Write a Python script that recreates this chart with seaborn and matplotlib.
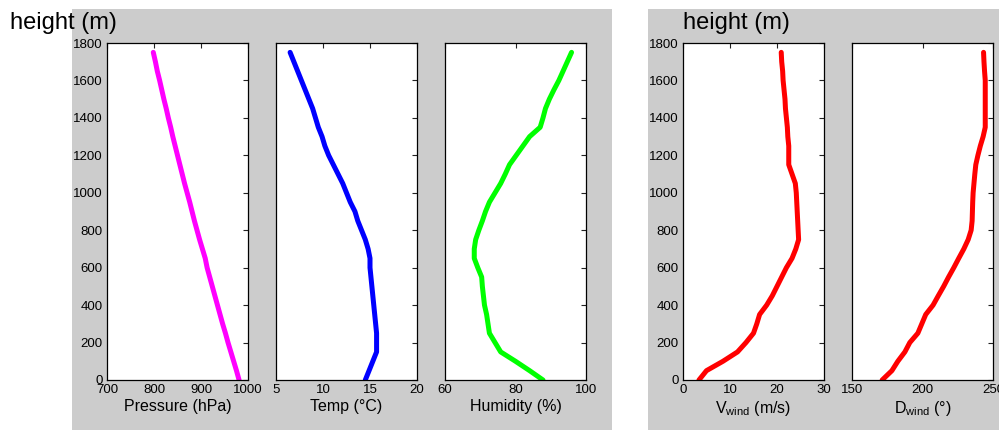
import numpy as np
import pandas as pd
import matplotlib
matplotlib.use("Agg")
import matplotlib.pyplot as plt
from matplotlib.patches import Rectangle
import seaborn as sns

# Profile data (height grid every 50 m)
height = [0, 50, 100, 150, 200, 250, 300, 350, 400, 450, 500, 550, 600, 650, 700, 750, 800, 850,
          900, 950, 1000, 1050, 1100, 1150, 1200, 1250, 1300, 1350, 1400, 1450, 1500, 1550, 1600,
          1650, 1700, 1750]
pressure = [981, 975.5, 969.5, 963.5, 957.5, 952, 946, 940.5, 935, 929.5, 924, 918.5, 913, 909,
            903, 897, 891.5, 886, 881, 876, 870.5, 865, 860, 855, 850, 845, 840, 835.5, 830.5,
            826, 821, 816.5, 812, 807, 803, 798.5]
temp = [14.5, 14.9, 15.3, 15.7, 15.7, 15.7, 15.6, 15.5, 15.4, 15.3, 15.2, 15.1, 15.0, 15.0, 14.8,
        14.5, 14.1, 13.7, 13.4, 12.9, 12.5, 12.1, 11.6, 11.1, 10.6, 10.2, 9.9, 9.5, 9.2, 8.9, 8.5,
        8.1, 7.7, 7.3, 6.9, 6.5]
humidity = [87.8, 84.0, 80.0, 75.8, 74.2, 72.6, 72.2, 71.8, 71.2, 70.9, 70.6, 70.4, 69.3, 68.3,
            68.3, 68.7, 69.6, 70.6, 71.5, 72.6, 74.2, 75.8, 77.1, 78.3, 80.2, 82.1, 84.0, 87.0,
            87.8, 88.5, 89.6, 90.9, 92.3, 93.5, 94.7, 95.9]
v_wind = [3.4, 5.0, 8.5, 11.6, 13.4, 15.0, 15.7, 16.3, 17.8, 19.0, 20.0, 21.0, 22.0, 23.2, 24.0,
          24.6, 24.5, 24.4, 24.3, 24.2, 24.1, 23.9, 23.2, 22.5, 22.5, 22.5, 22.3, 22.2, 22.0, 21.8,
          21.7, 21.5, 21.3, 21.2, 21.0, 20.9]
d_wind = [171.4, 178.3, 182.5, 187.5, 191.0, 196.7, 199.5, 202.3, 207.5, 211.2, 215.0, 218.5,
          222.2, 225.7, 229.3, 232.4, 234.5, 235.2, 235.4, 235.6, 235.9, 236.5, 237.1, 237.8,
          239.3, 241.0, 243.0, 244.5, 244.5, 244.5, 244.5, 244.5, 244.5, 244.0, 243.6, 243.3]

df = pd.DataFrame({"height": height, "pressure": pressure, "temp": temp,
                   "humidity": humidity, "v_wind": v_wind, "d_wind": d_wind})

sns.set_style("white")
plt.rcParams["font.family"] = ["Liberation Sans", "DejaVu Sans"]
plt.rcParams["mathtext.fontset"] = "custom"
plt.rcParams["mathtext.rm"] = "Liberation Sans"
plt.rcParams["mathtext.it"] = "Liberation Sans"
plt.rcParams["text.color"] = "black"
plt.rcParams["axes.labelcolor"] = "black"

W, H = 999, 430
fig = plt.figure(figsize=(W / 100, H / 100), dpi=100)
fig.patch.set_facecolor("white")

# grey figure panels (two MATLAB-style windows)
for x0, x1 in [(72, 612), (648, 999)]:
    fig.patches.append(Rectangle((x0 / W, 0), (x1 - x0) / W, (H - 9) / H,
                                 transform=fig.transFigure, facecolor="#cccccc",
                                 edgecolor="none", zorder=-10))

panels = [
    ("pressure", 107, "#ff00ff", (700, 1000), [700, 800, 900, 1000], "Pressure (hPa)", True),
    ("temp", 276, "#0000ff", (5, 20), [5, 10, 15, 20], "Temp (°C)", False),
    ("humidity", 445, "#00ff00", (60, 100), [60, 80, 100], "Humidity (%)", False),
    ("v_wind", 683, "#ff0000", (0, 30), [0, 10, 20, 30], r"V$_{\mathrm{wind}}$ (m/s)", True),
    ("d_wind", 852, "#ff0000", (150, 250), [150, 200, 250], r"D$_{\mathrm{wind}}$ (°)", False),
]

for col, left, color, xlim, xticks, label, show_y in panels:
    ax = fig.add_axes([left / W, 50 / H, 141 / W, 337 / H])
    ax.set_zorder(5)
    ax.set_facecolor("white")
    sns.lineplot(data=df, x=col, y="height", orient="y", sort=False, estimator=None,
                 color=color, linewidth=3.6, ax=ax)
    ax.set_xlim(*xlim)
    ax.set_ylim(0, 1800)
    ax.set_xticks(xticks)
    ax.set_yticks(range(0, 1801, 200))
    ax.tick_params(direction="in", length=3.5, width=0.8, top=True, right=True,
                   labelsize=9.5, pad=3, colors="#222222")
    ax.tick_params(labelcolor="black")
    if not show_y:
        ax.set_yticklabels([])
    ax.set_ylabel("")
    ax.set_xlabel(label, fontsize=11.5, labelpad=2)
    for sp in ax.spines.values():
        sp.set_visible(True)
        sp.set_color("black")
        sp.set_linewidth(0.9)

fig.text(10 / W, 1 - 29 / H, "height (m)", fontsize=17, ha="left", va="baseline", zorder=10)
fig.text(683 / W, 1 - 29 / H, "height (m)", fontsize=17, ha="left", va="baseline", zorder=10)

fig.savefig("out.png", dpi=100, facecolor=fig.get_facecolor())
